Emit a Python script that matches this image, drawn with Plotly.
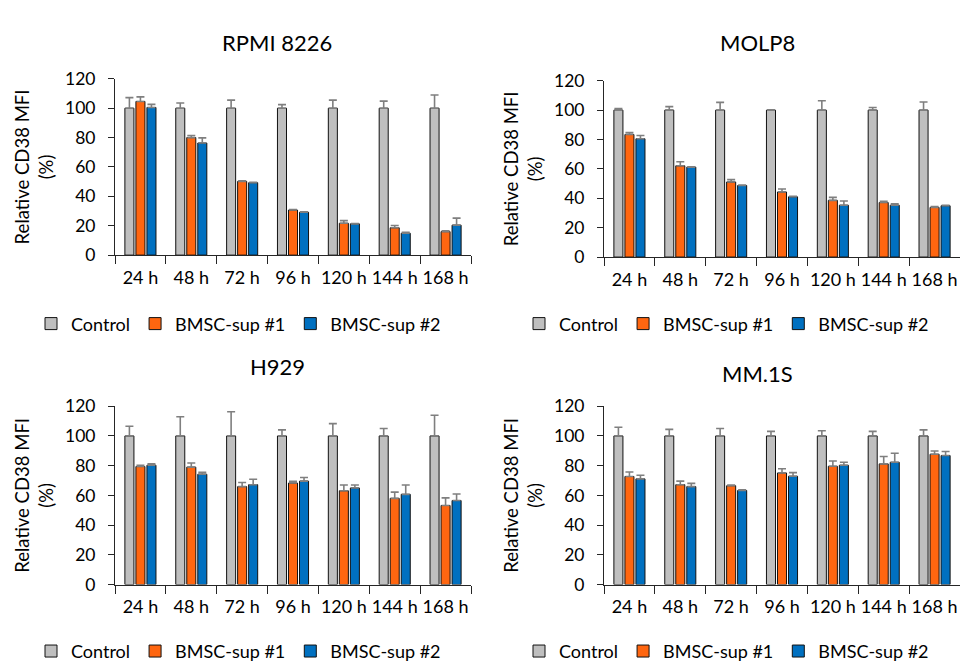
import plotly.graph_objects as go

categories = ["24 h", "48 h", "72 h", "96 h", "120 h", "144 h", "168 h"]
series_names = ["Control", "BMSC-sup #1", "BMSC-sup #2"]
panel_titles = ["RPMI 8226", "MOLP8", "H929", "MM.1S"]

# RPMI 8226
rpmi_ctrl = [100, 100, 100, 100, 100, 100, 100]
rpmi_ctrl_err = [7.2, 3.5, 5.5, 2.4, 5.5, 4.8, 9.0]
rpmi_s1 = [104.6, 80.0, 50.2, 30.7, 21.7, 18.6, 16.0]
rpmi_s1_err = [3.1, 1.4, 0.3, 0.4, 1.8, 1.6, 0.5]
rpmi_s2 = [100.5, 76.3, 49.3, 29.2, 21.3, 14.9, 20.4]
rpmi_s2_err = [2.1, 3.5, 0.2, 0.3, 0.2, 0.6, 4.8]

# MOLP8
molp_ctrl = [100, 100, 100, 100, 100, 100, 100]
molp_ctrl_err = [1.1, 2.4, 5.3, 0.3, 6.4, 1.8, 5.5]
molp_s1 = [83.4, 62.1, 51.1, 44.3, 38.6, 37.1, 33.8]
molp_s1_err = [1.3, 2.8, 1.6, 2.0, 2.0, 0.9, 0.6]
molp_s2 = [80.5, 61.2, 48.7, 41.0, 35.3, 35.3, 34.9]
molp_s2_err = [2.2, 0.3, 0.3, 0.3, 2.9, 0.9, 0.3]

# H929
h929_ctrl = [100, 100, 100, 100, 100, 100, 100]
h929_ctrl_err = [6.5, 12.9, 16.3, 4.1, 8.3, 5.0, 13.9]
h929_s1 = [79.4, 79.0, 65.9, 68.3, 63.1, 58.0, 53.2]
h929_s1_err = [0.9, 2.8, 2.8, 1.1, 3.9, 4.2, 5.1]
h929_s2 = [80.3, 74.2, 67.2, 69.6, 65.0, 60.7, 56.5]
h929_s2_err = [0.9, 1.3, 3.7, 2.4, 2.0, 6.3, 4.4]

# MM.1S
mm1s_ctrl = [100, 100, 100, 100, 100, 100, 100]
mm1s_ctrl_err = [5.9, 4.4, 5.0, 3.1, 3.5, 3.1, 4.1]
mm1s_s1 = [72.7, 67.2, 66.5, 75.1, 79.6, 81.2, 87.7]
mm1s_s1_err = [3.0, 2.4, 0.4, 2.8, 3.5, 5.0, 2.2]
mm1s_s2 = [71.1, 65.9, 63.3, 72.9, 80.3, 82.3, 86.8]
mm1s_s2_err = [2.4, 2.2, 0.4, 2.4, 2.0, 6.1, 2.7]

panels = [
    [(rpmi_ctrl, rpmi_ctrl_err), (rpmi_s1, rpmi_s1_err), (rpmi_s2, rpmi_s2_err)],
    [(molp_ctrl, molp_ctrl_err), (molp_s1, molp_s1_err), (molp_s2, molp_s2_err)],
    [(h929_ctrl, h929_ctrl_err), (h929_s1, h929_s1_err), (h929_s2, h929_s2_err)],
    [(mm1s_ctrl, mm1s_ctrl_err), (mm1s_s1, mm1s_s1_err), (mm1s_s2, mm1s_s2_err)],
]

colors = ["#BFBFBF", "#FF6610", "#0070C0"]
W, H = 961, 672
FONT = "Lato"
AXIS_COLOR = "#262626"

# pixel geometry of each panel: (x_left, x_right, y_zero, y_top)
geom = [
    (115, 471, 252, 70),
    (604, 960, 254, 72),
    (115, 471, 592, 408),
    (604, 960, 592, 408),
]
title_pos = [(277, 32), (757, 33), (277, 367), (757, 374)]
legend_pos = [(31, 323), (519, 323), (31, 661), (519, 661)]

fig = go.Figure()
layout = dict(
    width=W, height=H, margin=dict(l=0, r=0, t=0, b=0),
    paper_bgcolor="white", plot_bgcolor="white",
    barmode="group", bargap=0.35, bargroupgap=0.18,
    font=dict(family=FONT, size=17, color="black"),
    annotations=[],
)

for i, panel in enumerate(panels):
    k = i + 1
    xs = "x" if k == 1 else f"x{k}"
    ys = "y" if k == 1 else f"y{k}"
    lg = "legend" if k == 1 else f"legend{k}"
    for j, (vals, errs) in enumerate(panel):
        fig.add_trace(go.Bar(
            x=categories, y=vals, name=series_names[j],
            xaxis=xs, yaxis=ys, legend=lg,
            marker=dict(color=colors[j], line=dict(color="#111111", width=1)),
            error_y=dict(type="data", symmetric=False, array=errs,
                         arrayminus=[0] * len(errs),
                         color="#7F7F7F", thickness=1.6, width=4),
        ))
    xl, xr, y0, yt = geom[i]
    xdom = [xl / W, xr / W]
    ydom = [1 - y0 / H, 1 - yt / H]
    layout["xaxis" if k == 1 else f"xaxis{k}"] = dict(
        domain=xdom, anchor=ys, type="category",
        showline=True, linecolor=AXIS_COLOR, linewidth=1,
        ticks="outside", tickson="boundaries", ticklen=8, tickcolor=AXIS_COLOR,
        ticklabelstandoff=6, tickangle=0,
        showgrid=False, tickfont=dict(family=FONT, size=18, color="black"),
    )
    layout["yaxis" if k == 1 else f"yaxis{k}"] = dict(
        domain=ydom, anchor=xs, range=[0, 120], dtick=20,
        showline=True, linecolor=AXIS_COLOR, linewidth=1,
        ticks="outside", ticklen=6, tickcolor=AXIS_COLOR,
        ticklabelstandoff=9,
        showgrid=False, zeroline=False,
        tickfont=dict(family=FONT, size=17.5, color="black"),
        title=dict(text="Relative CD38 MFI<br>(%)", standoff=6,
                   font=dict(family=FONT, size=18.5, color="black")),
    )
    lx, ly = legend_pos[i]
    layout[lg] = dict(
        orientation="h", x=lx / W, y=1 - ly / H, xanchor="left", yanchor="middle",
        font=dict(family=FONT, size=18, color="black"),
        itemwidth=30, bgcolor="rgba(0,0,0,0)", traceorder="normal",
    )
    tx, ty = title_pos[i]
    layout["annotations"].append(dict(
        text=panel_titles[i], x=tx / W, y=1 - ty / H, xref="paper", yref="paper",
        xanchor="center", yanchor="middle", showarrow=False,
        font=dict(family=FONT, size=22, color="black"),
    ))

fig.update_layout(**layout)
fig.write_html("out.html")
